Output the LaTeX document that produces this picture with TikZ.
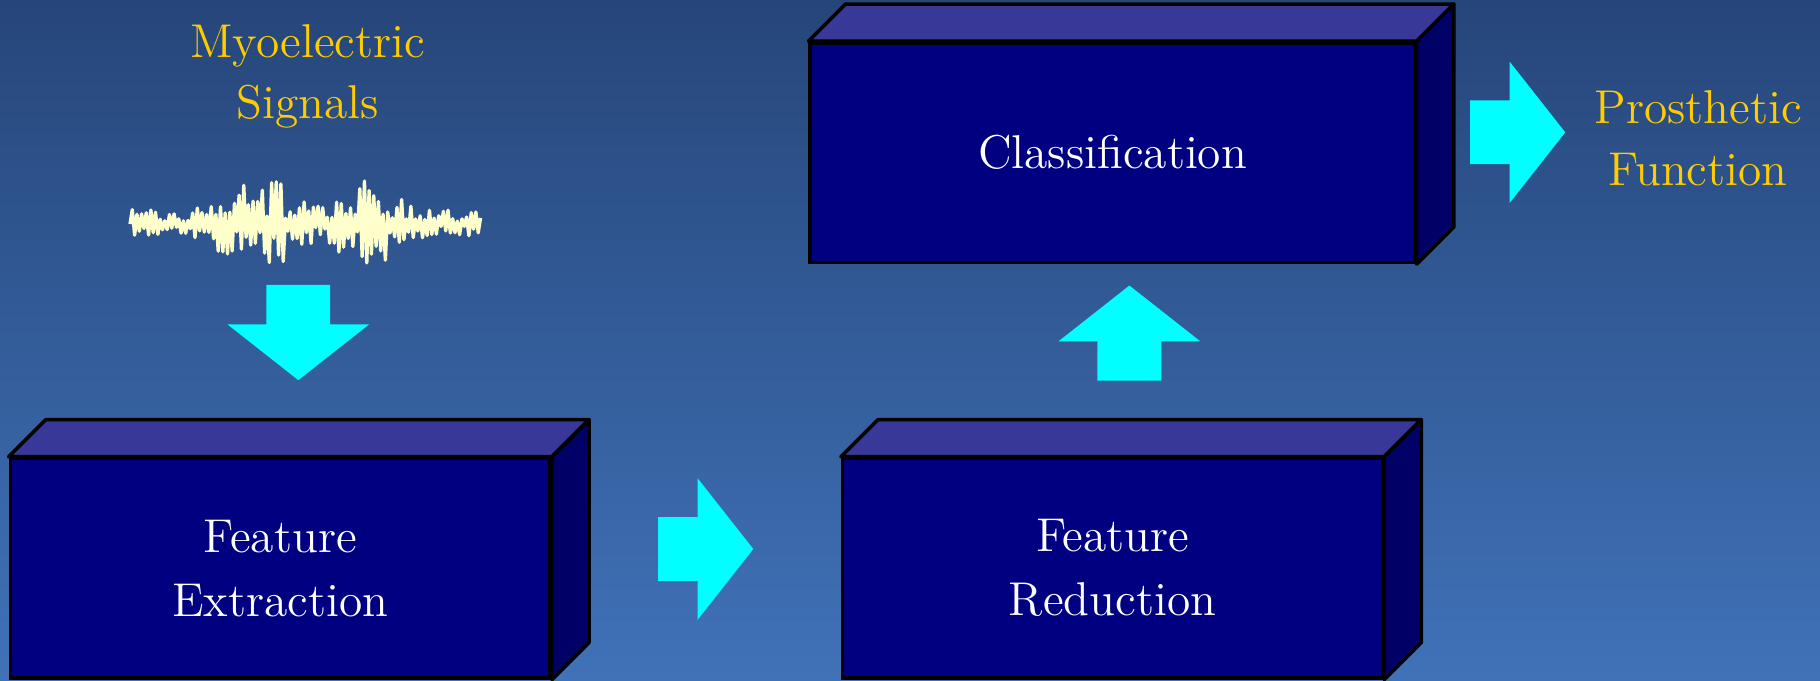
\documentclass[tikz,border=0pt]{standalone}
\usepackage{tikz}
\usetikzlibrary{positioning}

\definecolor{bgtop}{RGB}{38,70,122}
\definecolor{bgbot}{RGB}{64,114,184}
\definecolor{frontcol}{RGB}{0,0,128}
\definecolor{topcol}{RGB}{56,56,152}
\definecolor{sidecol}{RGB}{0,0,102}
\definecolor{yellowlbl}{RGB}{255,204,0}
\definecolor{emgcol}{RGB}{255,255,204}
\definecolor{arrowcol}{RGB}{0,255,255}

\newcommand{\pxu}{0.33026pt}
% top and right faces of a box node
\newcommand{\boxfaces}[1]{%
  \filldraw[face, fill=topcol] (#1.north west) -- ++(32,-32)
    -- ([shift={(32,-32)}]#1.north east) -- (#1.north east) -- cycle;
  \filldraw[face, fill=sidecol] (#1.north east) -- ++(32,-32)
    -- ([shift={(32,-32)}]#1.south east) -- (#1.south east) -- cycle;}

\tikzset{
  block/.style={draw=black, line width=1pt, fill=frontcol, text=white,
    minimum height=189*\pxu, inner sep=0pt, align=center,
    font=\fontsize{13.5}{18.2}\selectfont},
  face/.style={draw=black, line width=1pt, line join=round},
  yellowtext/.style={text=yellowlbl, align=center,
    font=\fontsize{13.5}{17.5}\selectfont},
  fatarrow/.pic={\fill[arrowcol] (-41,-27.5) -- (-7,-27.5) -- (-7,-61)
    -- (41,0) -- (-7,61) -- (-7,27.5) -- (-41,27.5) -- cycle;}
}

\begin{document}
\begin{tikzpicture}[x=0.33026pt, y=-0.33026pt]

    \useasboundingbox (0,0) rectangle (1568,586);
    \shade[top color=bgtop, bottom color=bgbot] (0,0) rectangle (1568,586);

    % signal
    \pgfmathsetseed{11}
    \draw[emgcol, line width=0.95pt, line join=round]
      (112,193) \foreach \i in {114,116,...,414} {
        -- (\i, {193 + (13 + 30*exp(-((\i-222)/36)^2) + 26*exp(-((\i-318)/28)^2))*(0.15+0.85*rnd)*cos(90*mod(\i,4))})
      };

    \node[yellowtext] (myo) at (265,66) {Myoelectric\\Signals};
    \node[yellowtext] (prost) at (1463,119) {Prosthetic\\Function};

    \node[block, minimum width=465*\pxu] (extr) at (241.5,489.5) {Feature\\Extraction};
    \node[block, minimum width=465*\pxu] (red) at (958.5,489.5) {Feature\\Reduction};
    \node[block, minimum width=521*\pxu] (cls) at (958.5,131.5) {Classification};
    \boxfaces{extr}
    \boxfaces{red}
    \boxfaces{cls}

    \pic[rotate=-90] (down) at (257,286.5) {fatarrow};
    \pic (mid) at (608,473) {fatarrow};
    \pic[rotate=90] (up) at (973,287) {fatarrow};
    \pic (out) at (1307.5,114) {fatarrow};

\end{tikzpicture}
\end{document}
